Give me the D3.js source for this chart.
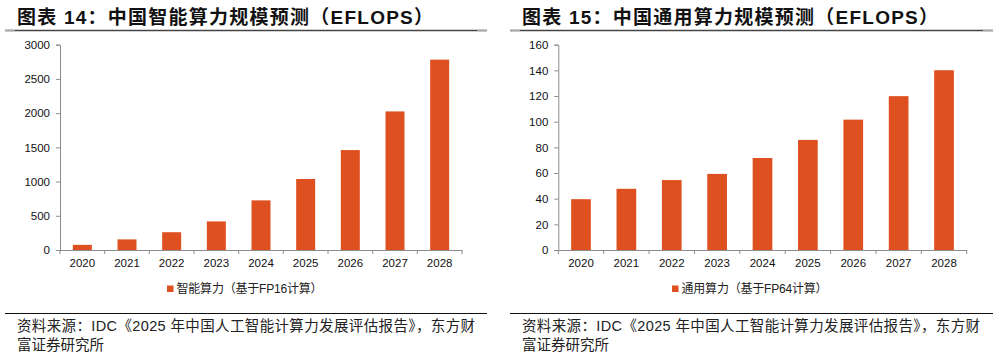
<!DOCTYPE html>
<html><head><meta charset="utf-8">
<script src="https://cdn.jsdelivr.net/npm/d3@7/dist/d3.min.js"></script>
<style>
body{margin:0;background:#fff;}
svg{display:block;}
text{font-family:"Liberation Sans",Arial,"Noto Sans CJK SC",sans-serif;}
.cjk{font-family:"Liberation Sans","Noto Sans CJK SC",sans-serif;}
</style></head>
<body>
<svg id="c" width="997" height="356"></svg>
<script>
const years = ["2020","2021","2022","2023","2024","2025","2026","2027","2028"];
const aiValues = [75, 155.2, 259.9, 417.9, 725.3, 1037.3, 1460.3, 2025, 2781.9];
const genValues = [39.6, 47.7, 54.5, 59.3, 71.7, 85.8, 101.6, 119.9, 140.1];
const aiTicks = [0, 500, 1000, 1500, 2000, 2500, 3000];
const genTicks = [0, 20, 40, 60, 80, 100, 120, 140, 160];
const titles = ["图表 14：中国智能算力规模预测（EFLOPS）", "图表 15：中国通用算力规模预测（EFLOPS）"];
const legends = ["智能算力（基于FP16计算）", "通用算力（基于FP64计算）"];
const sourceLine1 = "资料来源：IDC《2025 年中国人工智能计算力发展评估报告》，东方财";
const sourceLine2 = "富证券研究所";

const svg = d3.select("#c");
const barColor = "#DE5020";
const axisColor = "#8c8c8c";

function panel(opt){
  const g = svg.append("g");
  // title
  g.append("text").attr("class","cjk").attr("x",opt.tx).attr("y",24)
    .attr("font-size",19).attr("font-weight","bold").attr("fill","#111")
    .attr("textLength",opt.tlen).attr("lengthAdjust","spacing")
    .text(opt.title);
  // title underline
  g.append("line").attr("x1",opt.lx1).attr("x2",opt.lx2).attr("y1",30.5).attr("y2",30.5)
    .attr("stroke","#444").attr("stroke-width",1.5);
  g.append("line").attr("x1",opt.lx1).attr("x2",opt.lx1+10).attr("y1",30.5).attr("y2",30.5)
    .attr("stroke","#aaa").attr("stroke-width",1.5);
  g.append("line").attr("x1",opt.lx2-10).attr("x2",opt.lx2).attr("y1",30.5).attr("y2",30.5)
    .attr("stroke","#aaa").attr("stroke-width",1.5);

  const x = d3.scaleBand().domain(years).range([opt.x0,opt.x1])
    .paddingInner(opt.pad).paddingOuter(opt.pad/2);
  const y = d3.scaleLinear().domain([0,opt.max]).range([250,44.7]);

  // bars
  g.selectAll("rect.bar").data(opt.values).enter().append("rect")
    .attr("x",(d,i)=>x(years[i])).attr("width",x.bandwidth())
    .attr("y",d=>y(d)).attr("height",d=>250-y(d)).attr("fill",barColor);

  // y axis
  const ya = d3.axisLeft(y).tickValues(opt.ticks).tickSize(4).tickPadding(6).tickFormat(d3.format("d"));
  const yg = g.append("g").attr("transform",`translate(${opt.x0},0)`).call(ya);
  yg.select(".domain").attr("stroke",axisColor);
  yg.selectAll(".tick line").attr("stroke",axisColor);
  yg.selectAll(".tick text").attr("font-size",11.5).attr("fill","#111")
    .attr("font-family","'Liberation Sans',Arial,sans-serif");

  // x axis
  const step = x.step();
  const xa = d3.axisBottom(x).tickSize(0).tickPadding(9);
  const xg = g.append("g").attr("transform","translate(0,250)").call(xa);
  xg.select(".domain").attr("stroke",axisColor);
  xg.selectAll(".tick text").attr("font-size",11.5).attr("fill","#111")
    .attr("font-family","'Liberation Sans',Arial,sans-serif");
  g.selectAll("line.xt").data(d3.range(years.length+1)).enter().append("line")
    .attr("x1",i=>opt.x0+i*step).attr("x2",i=>opt.x0+i*step)
    .attr("y1",250).attr("y2",254).attr("stroke",axisColor);

  // legend
  g.append("rect").attr("x",opt.legx).attr("y",285.5).attr("width",6.5).attr("height",6.5).attr("fill",barColor);
  g.append("text").attr("class","cjk").attr("x",opt.legx+9.5).attr("y",293)
    .attr("font-size",12).attr("fill","#222").attr("textLength",146).attr("lengthAdjust","spacing")
    .text(opt.legend);

  // bottom line & source
  g.append("line").attr("x1",opt.lx1).attr("x2",opt.lx2).attr("y1",313.5).attr("y2",313.5)
    .attr("stroke","#111").attr("stroke-width",1.2);
  g.append("text").attr("class","cjk").attr("x",opt.tx).attr("y",331).attr("font-size",14.5).attr("fill","#222")
    .attr("textLength",458).attr("lengthAdjust","spacing").text(sourceLine1);
  g.append("text").attr("class","cjk").attr("x",opt.tx).attr("y",350).attr("font-size",14.5).attr("fill","#222")
    .attr("textLength",87).attr("lengthAdjust","spacing").text(sourceLine2);
}

panel({title:titles[0], legend:legends[0], values:aiValues, ticks:aiTicks, max:3000,
  tx:17, tlen:416, lx1:5, lx2:487, x0:60, x1:462, pad:0.575, legx:167});
panel({title:titles[1], legend:legends[1], values:genValues, ticks:genTicks, max:160,
  tx:522, tlen:416, lx1:510, lx2:993, x0:558.3, x1:966.7, pad:0.566, legx:672});
</script>
</body></html>
